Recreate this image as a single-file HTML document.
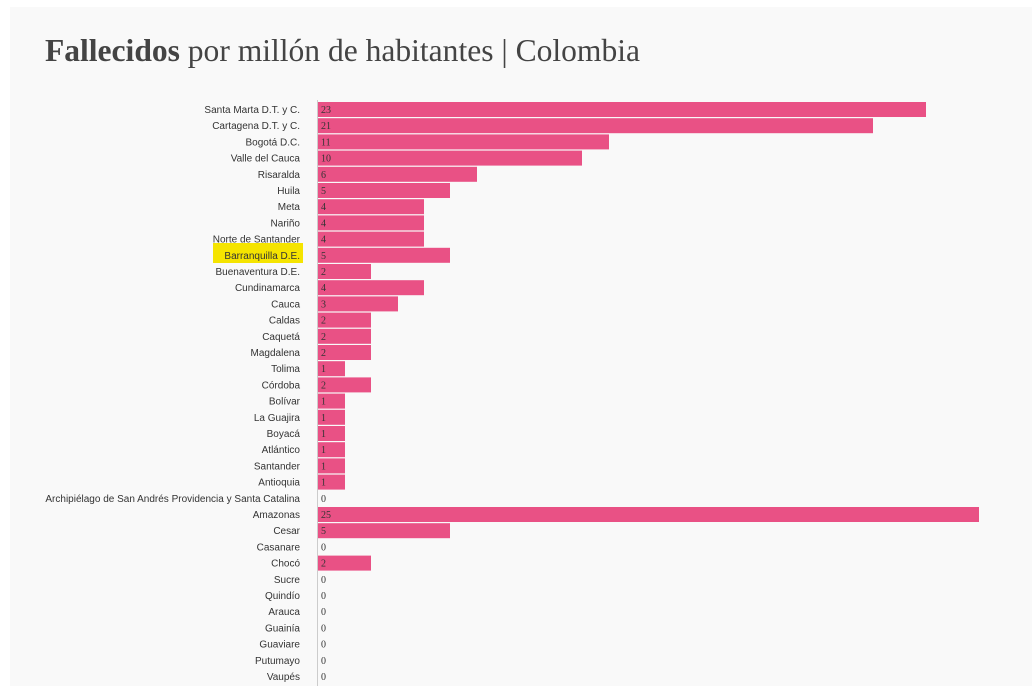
<!DOCTYPE html>
<html><head><meta charset="utf-8"><style>
html,body{margin:0;padding:0;background:#fff;}
svg{display:block}
.l{font-family:"Liberation Sans",sans-serif;font-size:10px;fill:#333;text-anchor:end}
.v{font-family:"Liberation Serif",serif;font-size:10px;fill:#333}
</style></head><body>
<svg width="1032" height="686" xmlns="http://www.w3.org/2000/svg">
<rect x="10" y="7" width="1022" height="679" fill="#f9f9f9"/>
<text x="45" y="61" font-family="Liberation Serif,serif" font-size="31.5" fill="#444" textLength="595" lengthAdjust="spacingAndGlyphs"><tspan font-weight="bold">Fallecidos</tspan> por millón de habitantes | Colombia</text>
<rect x="213" y="243" width="90" height="20" fill="#f5e400"/>
<line x1="317.5" y1="100" x2="317.5" y2="686" stroke="#ccc" stroke-width="1"/>
<g fill="#e95185">
<rect x="318" y="102" width="608" height="15"/>
<rect x="318" y="118.2" width="555" height="15"/>
<rect x="318" y="134.4" width="291" height="15"/>
<rect x="318" y="150.6" width="264" height="15"/>
<rect x="318" y="166.8" width="159" height="15"/>
<rect x="318" y="183" width="132" height="15"/>
<rect x="318" y="199.2" width="106" height="15"/>
<rect x="318" y="215.4" width="106" height="15"/>
<rect x="318" y="231.6" width="106" height="15"/>
<rect x="318" y="247.8" width="132" height="15"/>
<rect x="318" y="264" width="53" height="15"/>
<rect x="318" y="280.2" width="106" height="15"/>
<rect x="318" y="296.4" width="80" height="15"/>
<rect x="318" y="312.6" width="53" height="15"/>
<rect x="318" y="328.8" width="53" height="15"/>
<rect x="318" y="345" width="53" height="15"/>
<rect x="318" y="361.2" width="27" height="15"/>
<rect x="318" y="377.4" width="53" height="15"/>
<rect x="318" y="393.6" width="27" height="15"/>
<rect x="318" y="409.8" width="27" height="15"/>
<rect x="318" y="426" width="27" height="15"/>
<rect x="318" y="442.2" width="27" height="15"/>
<rect x="318" y="458.4" width="27" height="15"/>
<rect x="318" y="474.6" width="27" height="15"/>
<rect x="318" y="507" width="661" height="15"/>
<rect x="318" y="523.2" width="132" height="15"/>
<rect x="318" y="555.6" width="53" height="15"/>
</g>
<g class="l">
<text x="300" y="113">Santa Marta D.T. y C.</text>
<text x="300" y="129.2">Cartagena D.T. y C.</text>
<text x="300" y="145.4">Bogotá D.C.</text>
<text x="300" y="161.6">Valle del Cauca</text>
<text x="300" y="177.8">Risaralda</text>
<text x="300" y="194">Huila</text>
<text x="300" y="210.2">Meta</text>
<text x="300" y="226.4">Nariño</text>
<text x="300" y="242.6">Norte de Santander</text>
<text x="300" y="258.8">Barranquilla D.E.</text>
<text x="300" y="275">Buenaventura D.E.</text>
<text x="300" y="291.2">Cundinamarca</text>
<text x="300" y="307.4">Cauca</text>
<text x="300" y="323.6">Caldas</text>
<text x="300" y="339.8">Caquetá</text>
<text x="300" y="356">Magdalena</text>
<text x="300" y="372.2">Tolima</text>
<text x="300" y="388.4">Córdoba</text>
<text x="300" y="404.6">Bolívar</text>
<text x="300" y="420.8">La Guajira</text>
<text x="300" y="437">Boyacá</text>
<text x="300" y="453.2">Atlántico</text>
<text x="300" y="469.4">Santander</text>
<text x="300" y="485.6">Antioquia</text>
<text x="300" y="501.8">Archipiélago de San Andrés Providencia y Santa Catalina</text>
<text x="300" y="518">Amazonas</text>
<text x="300" y="534.2">Cesar</text>
<text x="300" y="550.4">Casanare</text>
<text x="300" y="566.6">Chocó</text>
<text x="300" y="582.8">Sucre</text>
<text x="300" y="599">Quindío</text>
<text x="300" y="615.2">Arauca</text>
<text x="300" y="631.4">Guainía</text>
<text x="300" y="647.6">Guaviare</text>
<text x="300" y="663.8">Putumayo</text>
<text x="300" y="680">Vaupés</text>
</g>
<g class="v">
<text x="321" y="113">23</text>
<text x="321" y="129.2">21</text>
<text x="321" y="145.4">11</text>
<text x="321" y="161.6">10</text>
<text x="321" y="177.8">6</text>
<text x="321" y="194">5</text>
<text x="321" y="210.2">4</text>
<text x="321" y="226.4">4</text>
<text x="321" y="242.6">4</text>
<text x="321" y="258.8">5</text>
<text x="321" y="275">2</text>
<text x="321" y="291.2">4</text>
<text x="321" y="307.4">3</text>
<text x="321" y="323.6">2</text>
<text x="321" y="339.8">2</text>
<text x="321" y="356">2</text>
<text x="321" y="372.2">1</text>
<text x="321" y="388.4">2</text>
<text x="321" y="404.6">1</text>
<text x="321" y="420.8">1</text>
<text x="321" y="437">1</text>
<text x="321" y="453.2">1</text>
<text x="321" y="469.4">1</text>
<text x="321" y="485.6">1</text>
<text x="321" y="501.8">0</text>
<text x="321" y="518">25</text>
<text x="321" y="534.2">5</text>
<text x="321" y="550.4">0</text>
<text x="321" y="566.6">2</text>
<text x="321" y="582.8">0</text>
<text x="321" y="599">0</text>
<text x="321" y="615.2">0</text>
<text x="321" y="631.4">0</text>
<text x="321" y="647.6">0</text>
<text x="321" y="663.8">0</text>
<text x="321" y="680">0</text>
</g>
</svg>
</body></html>
